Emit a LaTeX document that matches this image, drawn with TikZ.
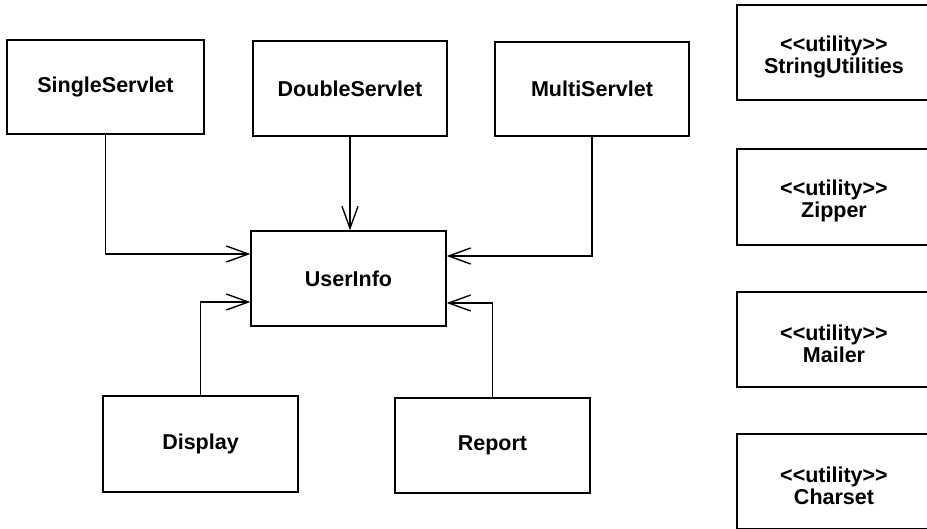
\documentclass[tikz,border=0pt]{standalone}
\usepackage{fontspec}
\setmainfont{Liberation Sans}
\usetikzlibrary{arrows.meta}

% stereotype line, with extra room above so the two-line label sits a little low
\newcommand{\stereoline}{\rule{0pt}{24pt}<{}<utility>{}>}

\tikzset{
  classbox/.style={draw, line width=1.3pt, rectangle, inner sep=0pt,
    minimum width=195pt, minimum height=95pt,
    font=\fontsize{21.5}{22}\selectfont\bfseries, align=center},
  uses/.style={draw, line width=1.4pt,
    -{Straight Barb[length=22pt, width=16pt, line width=1.4pt]}}
}

\begin{document}
\begin{tikzpicture}[x=1pt, y=-1pt]
  \useasboundingbox (0,0) rectangle (927,529);
  \begin{scope}
    \clip (0,0) rectangle (927,529);

    % servlets
    \node[classbox, minimum width=197pt, minimum height=94pt] (single) at (105.5,87) {SingleServlet};
    \node[classbox, minimum width=194pt] (double) at (350,88.5) {DoubleServlet};
    \node[classbox, minimum width=194pt, minimum height=94pt] (multi) at (592,89) {MultiServlet};

    % shared user data
    \node[classbox] (userinfo) at (348.5,278.5) {UserInfo};

    % views
    \node[classbox, minimum height=96pt] (display) at (200.5,444) {Display};
    \node[classbox] (report) at (492.5,445.5) {Report};

    % utility classes
    \node[classbox, minimum width=194pt] (strutil) at (834,52.5) {\stereoline\\StringUtilities};
    \node[classbox, minimum width=194pt, minimum height=96pt] (zipper) at (834,197) {\stereoline\\Zipper};
    \node[classbox, minimum width=194pt] (mailer) at (834,339.5) {\stereoline\\Mailer};
    \node[classbox, minimum width=194pt] (charset) at (834,481.5) {\stereoline\\Charset};

    % dependencies on UserInfo
    \draw[uses] (single.south) |- ([yshift=24.5pt]userinfo.west);
    \draw[uses] (double.south) -- (double.south |- userinfo.north);
    \draw[uses] (multi.south) |- ([yshift=22.5pt]userinfo.east);
    \draw[uses] (display.north) |- ([yshift=-23.5pt]userinfo.west);
    \draw[uses] (report.north) |- ([yshift=-24.5pt]userinfo.east);
  \end{scope}
\end{tikzpicture}
\end{document}
